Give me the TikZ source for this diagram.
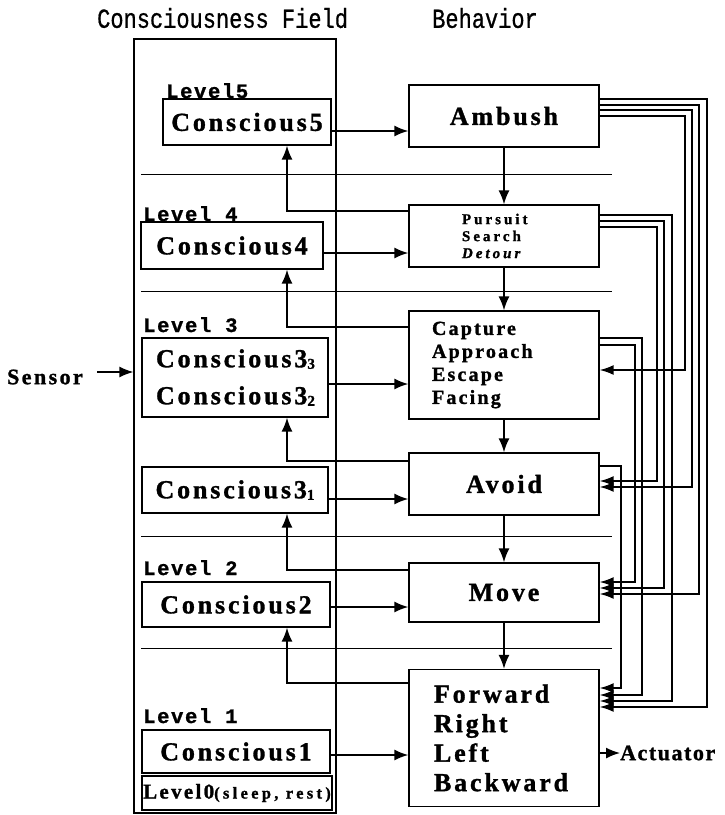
\documentclass[tikz,border=0pt]{standalone}
\usepackage{fontspec}
\usepackage{graphicx}
\setmainfont{Liberation Serif}
\newfontfamily\bxfam[LetterSpace=11, BoldFeatures={FakeBold=1.2}]{Liberation Serif}
\newfontfamily\bxsmallfam[LetterSpace=20, BoldFeatures={FakeBold=1.2}, BoldItalicFeatures={FakeBold=1.2}]{Liberation Serif}
\newfontfamily\lzfam[LetterSpace=20, BoldFeatures={FakeBold=1.2}]{Liberation Serif}
\newfontfamily\actfam[LetterSpace=7, BoldFeatures={FakeBold=1.2}]{Liberation Serif}
\newfontfamily\monofam[FakeBold=0.8]{Liberation Mono}
\newfontfamily\lvlfam[LetterSpace=8, BoldFeatures={FakeBold=1.2}]{Liberation Mono}
\usetikzlibrary{arrows.meta}
\newcommand\sbs[1]{\raisebox{-1.5pt}{\fontsize{15}{15}\selectfont #1}}
\tikzset{
  cbox/.style={draw, line width=1.4pt, inner sep=0pt, font=\bxfam\bfseries\fontsize{26}{29.5}\selectfont},
  behbox/.style={draw, line width=1.4pt, inner sep=0pt, minimum width=190pt, font=\bxfam\bfseries\fontsize{26}{29.5}\selectfont},
  arr/.style={line width=1.5pt, -{Latex[length=14pt,width=11pt]}},
  bus/.style={line width=1.5pt, -{Latex[length=14pt,width=10pt]}},
  divline/.style={line width=0.9pt},
  lvl/.style={anchor=base west, inner sep=0pt, font=\lvlfam\bfseries\fontsize{20.5}{20.5}\selectfont},
  ttl/.style={anchor=west, inner sep=0pt},
  io/.style={inner sep=0pt, font=\bxfam\bfseries\fontsize{22}{22}\selectfont}
}
\begin{document}
\begin{tikzpicture}[x=1pt, y=-1pt, line join=miter]
\useasboundingbox (0,0) rectangle (724,815);

% titles
\node[ttl] (t1) at (97,18) {\scalebox{1}[1.25]{\monofam\fontsize{22}{22}\selectfont Consciousness Field}};
\node[ttl] (t2) at (432,18) {\scalebox{1}[1.25]{\monofam\fontsize{22}{22}\selectfont Behavior}};

% consciousness field
\node[draw, line width=1.2pt, minimum width=202pt, minimum height=774pt, inner sep=0pt] (field) at (235,426) {};

% dividers
\draw[divline] (141,174) -- (612,174);
\draw[divline] (141,291) -- (612,291);
\draw[divline] (141,536) -- (612,536);
\draw[divline] (141,648) -- (612,648);

% level labels
\node[lvl] (lv5) at (166,98) {Level5};
\node[lvl] (lv4) at (143,221) {Level 4};
\node[lvl] (lv3) at (143,332) {Level 3};
\node[lvl] (lv2) at (143,575) {Level 2};
\node[lvl] (lv1) at (143,723) {Level 1};

% conscious boxes
\node[cbox, minimum width=168pt, minimum height=46pt] (C5) at (247,122) {Conscious5};
\node[cbox, minimum width=182pt, minimum height=47pt] (C4) at (232,245.5) {Conscious4};
\node[cbox, minimum width=186pt, minimum height=79pt, align=left, text width=158pt, inner xsep=14pt,
      font=\bxfam\bfseries\fontsize{26}{37}\selectfont] (C3) at (235,377.5) {Conscious3\sbs{3}\\Conscious3\sbs{2}};
\node[cbox, minimum width=186pt, minimum height=46pt] (C31) at (235,490) {Conscious3\sbs{1}};
\node[cbox, minimum width=188pt, minimum height=45pt] (C2) at (236,604.5) {Conscious2};
\node[cbox, minimum width=188pt, minimum height=43pt] (C1) at (236,751.5) {Conscious1};
\node[cbox, line width=2pt, minimum width=190pt, minimum height=34pt, font=\bxfam\bfseries] (L0) at (237,793)
  {{\fontsize{21}{21}\selectfont Level0}{\lzfam\bfseries\fontsize{16.5}{17}\selectfont(sleep, rest)}};

% behavior boxes
\node[behbox, minimum height=62pt] (Ambush) at (504,116) {Ambush};
\node[behbox, minimum height=62pt, align=left, inner xsep=53pt, text width=84pt,
      font=\bxsmallfam\bfseries\fontsize{15}{17}\selectfont] (Pursuit) at (504,236) {Pursuit\\Search\\\textit{Detour}};
\node[behbox, minimum height=108pt, align=left, inner xsep=23pt, text width=144pt,
      font=\bxfam\bfseries\fontsize{20}{23}\selectfont] (Capture) at (504,365) {Capture\\Approach\\Escape\\Facing};
\node[behbox, minimum height=62pt] (Avoid) at (504,484) {Avoid};
\node[behbox, minimum height=59pt] (Move) at (504,592.5) {Move};
\node[behbox, minimum height=137pt, align=left, inner xsep=25pt, text width=140pt] (Forward) at (504,738)
  {Forward\\Right\\Left\\Backward};

% sensor / actuator
\node[io, anchor=east] (Sensor) at (83,377) {Sensor};
\coordinate (sensorout) at (97,372);
\draw[arr] (sensorout) -- (field.west |- sensorout);
\node[inner sep=0pt, anchor=west, font=\actfam\bfseries\fontsize{22}{22}\selectfont] (Actuator) at (620,753) {Actuator};
\draw[arr] (Forward.east |- 0,753) -- (Actuator.west |- 0,753);

% conscious -> behavior
\draw[arr] (C5.east |- 0,131) -- (Ambush.west |- 0,131);
\draw[arr] (C4.east |- 0,253) -- (Pursuit.west |- 0,253);
\draw[arr] (C3.east |- 0,384) -- (Capture.west |- 0,384);
\draw[arr] (C31.east |- 0,499) -- (Avoid.west |- 0,499);
\draw[arr] (C2.east |- 0,607) -- (Move.west |- 0,607);
\draw[arr] (C1.east |- 0,755) -- (Forward.west |- 0,755);

% behavior feedback to conscious
\draw[arr] (Pursuit.west |- 0,211) -| (287,0 |- C5.south);
\draw[arr] (Capture.west |- 0,327) -| (287,0 |- C4.south);
\draw[arr] (Avoid.west |- 0,461) -| (287,0 |- C3.south);
\draw[arr] (Move.west |- 0,570) -| (287,0 |- C31.south);
\draw[arr] (Forward.west |- 0,683) -| (287,0 |- C2.south);

% down arrows
\draw[arr] (Ambush) -- (Pursuit);
\draw[arr] (Pursuit) -- (Capture);
\draw[arr] (Capture) -- (Avoid);
\draw[arr] (Avoid) -- (Move);
\draw[arr] (Move) -- (Forward);

% right-side bus
\draw[bus] (Ambush.east |- 0,99) -- (707,99) |- (Forward.east |- 0,707);
\draw[bus] (Ambush.east |- 0,105) -- (699,105) |- (Move.east |- 0,594);
\draw[bus] (Ambush.east |- 0,110) -- (692,110) |- (Avoid.east |- 0,487);
\draw[bus] (Ambush.east |- 0,116) -- (685,116) |- (Capture.east |- 0,370);
\draw[bus] (Pursuit.east |- 0,215) -- (672,215) |- (Forward.east |- 0,701);
\draw[bus] (Pursuit.east |- 0,221) -- (664,221) |- (Move.east |- 0,588);
\draw[bus] (Pursuit.east |- 0,227) -- (657,227) |- (Avoid.east |- 0,481);
\draw[bus] (Capture.east |- 0,338) -- (642,338) |- (Forward.east |- 0,695);
\draw[bus] (Capture.east |- 0,345) -- (635,345) |- (Move.east |- 0,582);
\draw[bus] (Avoid.east |- 0,466) -- (621,466) |- (Forward.east |- 0,688);
\end{tikzpicture}
\end{document}
